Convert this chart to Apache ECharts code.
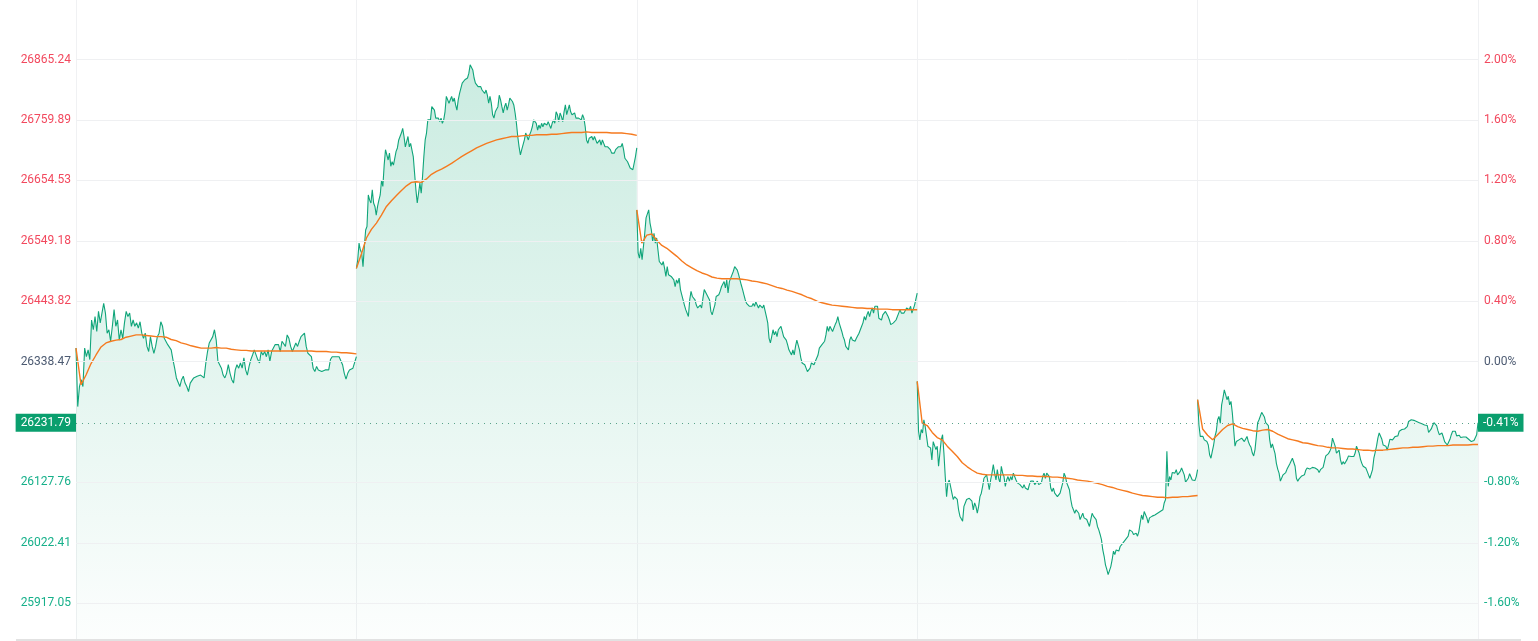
<!DOCTYPE html>
<html><head><meta charset="utf-8">
<script src="https://cdn.jsdelivr.net/npm/echarts@6/dist/echarts.min.js"></script>
<style>html,body{margin:0;padding:0;background:#fff}#c{width:1538px;height:641px}</style>
</head><body><div id="c"></div>
<script>
const prevClose = 26338.47;
const lastPrice = 26231.79;
const axisMin = 25853;
const axisMax = 26969;
const priceTicks = [25917.05, 26022.41, 26127.76, 26338.47, 26443.82, 26549.18, 26654.53, 26759.89, 26865.24];

const day1Price = [26362,26260,26295,26307,26295,26362,26347,26359,26342,26411,26394,26417,26391,26426,26406,26423,26440,26423,26388,26394,26374,26400,26429,26400,26411,26376,26394,26379,26406,26426,26417,26423,26400,26411,26400,26406,26397,26408,26388,26379,26388,26365,26356,26382,26365,26353,26365,26382,26388,26408,26400,26379,26376,26368,26371,26359,26342,26327,26310,26307,26295,26307,26313,26301,26295,26286,26301,26304,26310,26307,26313,26310,26315,26313,26310,26336,26356,26371,26374,26382,26394,26376,26339,26336,26327,26315,26310,26318,26333,26318,26307,26301,26324,26333,26327,26336,26327,26345,26324,26315,26330,26342,26350,26359,26359,26342,26336,26356,26350,26356,26347,26359,26339,26356,26359,26368,26365,26368,26356,26374,26371,26365,26385,26379,26365,26356,26359,26371,26365,26374,26382,26382,26388,26365,26353,26350,26347,26327,26321,26330,26324,26327,26321,26324,26324,26327,26324,26342,26347,26345,26347,26345,26347,26345,26333,26318,26308,26318,26324,26321,26327,26330,26347];
const day2Price = [26501,26516,26545,26533,26528,26504,26539,26568,26574,26629,26620,26615,26638,26615,26609,26594,26609,26620,26629,26655,26644,26681,26708,26711,26690,26702,26679,26687,26681,26693,26705,26711,26725,26731,26737,26745,26731,26713,26722,26731,26713,26719,26716,26696,26667,26638,26615,26632,26650,26632,26661,26696,26725,26737,26760,26763,26760,26783,26780,26777,26763,26760,26763,26757,26763,26754,26760,26774,26801,26803,26789,26795,26801,26792,26798,26786,26777,26795,26806,26803,26824,26827,26830,26833,26833,26841,26856,26859,26847,26833,26824,26821,26818,26815,26818,26812,26815,26806,26812,26803,26789,26801,26789,26769,26763,26774,26772,26783,26803,26795,26783,26772,26783,26789,26777,26786,26798,26801,26792,26786,26772,26754,26731,26713,26699,26708,26711,26725,26737,26731,26725,26734,26740,26748,26760,26763,26754,26742,26751,26745,26754,26748,26754,26757,26751,26757,26760,26745,26754,26760,26754,26774,26769,26757,26772,26766,26757,26774,26786,26769,26766,26786,26774,26769,26766,26772,26763,26760,26763,26766,26760,26769,26763,26748,26725,26719,26728,26725,26731,26725,26731,26725,26719,26722,26725,26716,26725,26719,26713,26716,26713,26711,26708,26702,26705,26702,26708,26705,26713,26716,26713,26719,26708,26693,26690,26687,26687,26676,26679,26673,26676,26696,26711];
const day3Price = [26603,26528,26519,26536,26516,26539,26562,26589,26586,26603,26580,26568,26548,26562,26545,26554,26533,26513,26516,26507,26513,26501,26487,26504,26490,26493,26487,26490,26481,26469,26481,26475,26484,26464,26455,26446,26437,26429,26432,26417,26446,26461,26452,26449,26446,26437,26432,26429,26437,26432,26449,26464,26467,26455,26458,26446,26426,26420,26429,26437,26452,26455,26455,26461,26469,26472,26478,26467,26481,26458,26478,26484,26487,26496,26504,26507,26498,26490,26481,26472,26464,26455,26446,26440,26443,26435,26432,26435,26440,26435,26443,26437,26432,26437,26440,26432,26437,26440,26417,26406,26379,26371,26382,26394,26385,26391,26382,26394,26397,26400,26391,26382,26385,26376,26368,26359,26356,26350,26359,26350,26365,26376,26379,26359,26345,26336,26339,26333,26327,26321,26318,26327,26336,26336,26333,26339,26339,26350,26362,26365,26368,26371,26374,26385,26400,26391,26400,26397,26391,26397,26403,26408,26417,26406,26408,26391,26382,26376,26365,26362,26359,26376,26382,26376,26376,26374,26379,26382,26388,26391,26400,26406,26417,26411,26420,26426,26417,26426,26432,26423,26435,26432,26435,26414,26417,26411,26420,26423,26426,26429,26417,26411,26403,26400,26406,26403,26411,26414,26423,26429,26423,26426,26423,26426,26432,26435,26429,26435,26423,26420,26437,26440,26458];
const day4Price = [26304,26217,26202,26220,26214,26237,26225,26208,26191,26191,26188,26167,26199,26202,26185,26191,26156,26179,26202,26211,26179,26138,26103,26127,26132,26132,26109,26098,26103,26100,26098,26080,26069,26066,26060,26086,26092,26098,26098,26100,26103,26095,26080,26092,26086,26074,26086,26103,26109,26121,26135,26132,26141,26138,26115,26132,26144,26159,26144,26132,26150,26135,26127,26156,26144,26138,26121,26132,26138,26130,26138,26132,26144,26147,26132,26127,26130,26124,26121,26118,26124,26118,26121,26115,26124,26130,26127,26130,26124,26127,26130,26124,26127,26127,26138,26144,26135,26144,26147,26138,26118,26112,26118,26109,26109,26103,26100,26109,26112,26127,26144,26138,26127,26121,26115,26098,26086,26080,26074,26080,26077,26074,26063,26066,26074,26066,26069,26063,26057,26051,26063,26074,26069,26071,26063,26051,26045,26037,26028,26010,25999,25984,25976,25967,25970,25981,25993,26008,26002,26010,26013,26008,26016,26019,26022,26022,26028,26031,26034,26045,26048,26042,26037,26039,26039,26034,26042,26057,26071,26063,26077,26074,26066,26057,26066,26063,26069,26066,26071,26069,26074,26071,26077,26074,26080,26092,26098,26182,26121,26138,26132,26145,26143,26144,26150,26141,26138,26147,26153,26151,26141,26128,26128,26135,26143,26141,26132,26131,26131,26138,26150];
const day5Price = [26272,26228,26208,26205,26208,26202,26199,26199,26193,26176,26170,26182,26193,26208,26217,26237,26243,26231,26263,26275,26289,26281,26272,26278,26263,26269,26249,26220,26191,26199,26202,26202,26202,26205,26202,26199,26202,26208,26199,26193,26189,26179,26174,26185,26208,26232,26237,26240,26250,26252,26242,26232,26231,26227,26202,26188,26195,26192,26178,26161,26151,26144,26130,26128,26141,26143,26145,26151,26154,26160,26163,26170,26172,26156,26135,26130,26134,26137,26139,26138,26141,26149,26153,26154,26151,26153,26154,26151,26153,26156,26150,26145,26150,26151,26154,26164,26174,26174,26178,26182,26188,26205,26205,26191,26179,26182,26184,26167,26159,26164,26160,26157,26168,26174,26176,26173,26172,26173,26179,26191,26189,26179,26168,26161,26156,26154,26153,26147,26141,26135,26134,26150,26170,26180,26191,26205,26214,26214,26203,26193,26195,26191,26184,26193,26203,26202,26202,26203,26208,26211,26209,26217,26220,26220,26218,26221,26224,26225,26234,26236,26237,26238,26236,26236,26234,26232,26232,26232,26230,26230,26228,26228,26227,26215,26213,26221,26227,26232,26234,26227,26218,26211,26213,26214,26207,26199,26197,26193,26193,26203,26211,26217,26220,26217,26209,26207,26210,26206,26205,26207,26208,26207,26205,26203,26201,26199,26198,26201,26203,26211,26231.79];

const day1Avg = [26362,26298,26315,26335,26350,26364,26371,26374,26376,26377,26381,26383,26385,26385,26384,26383,26382,26382,26381,26377,26375,26371,26369,26366,26364,26362,26362,26362,26363,26362,26362,26360,26359,26358,26358,26357,26357,26357,26357,26357,26357,26357,26357,26357,26357,26357,26357,26357,26356,26356,26356,26355,26355,26354,26354,26353,26352];
const day2Avg = [26501,26526,26554,26569,26580,26594,26609,26619,26628,26637,26645,26651,26652,26651,26657,26665,26670,26674,26679,26684,26690,26696,26701,26706,26711,26715,26719,26722,26725,26727,26729,26731,26731,26732,26733,26733,26734,26734,26734,26735,26735,26736,26737,26738,26738,26738,26739,26738,26738,26738,26738,26737,26737,26737,26736,26735,26733];
const day3Avg = [26603,26545,26559,26561,26550,26541,26536,26529,26522,26514,26507,26502,26497,26493,26490,26486,26484,26483,26483,26483,26483,26482,26481,26479,26478,26476,26474,26471,26468,26466,26463,26461,26458,26455,26451,26448,26444,26441,26439,26437,26436,26435,26434,26433,26432,26432,26431,26431,26430,26430,26430,26429,26429,26429,26429,26429,26429];
const day4Avg = [26304,26231,26227,26215,26206,26202,26191,26182,26173,26162,26155,26149,26144,26142,26141,26141,26141,26141,26141,26141,26140,26140,26139,26139,26138,26138,26138,26137,26137,26136,26135,26134,26132,26131,26130,26128,26126,26124,26121,26119,26116,26114,26112,26109,26107,26105,26104,26103,26102,26102,26101,26102,26102,26103,26103,26104,26105];
const day5Avg = [26272,26221,26210,26202,26211,26220,26227,26230,26225,26222,26220,26218,26217,26219,26220,26217,26212,26208,26204,26202,26200,26197,26196,26194,26192,26191,26189,26188,26188,26187,26186,26186,26185,26184,26184,26183,26184,26184,26185,26186,26187,26188,26188,26189,26189,26190,26191,26191,26192,26192,26192,26193,26193,26193,26193,26194,26194];

const GREEN = '#10a57a';
const ORANGE = '#f57a1f';
const UP = '#f2495e';
const DOWN = '#17b08a';
const FLAT = '#4d5b72';
const TAG = '#0a9f6e';
const FONT = 'Roboto, Arial, sans-serif';

function pct(v) { return ((v / prevClose - 1) * 100).toFixed(2) + '%'; }
function tone(v) { return v > prevClose + 0.001 ? UP : (v < prevClose - 0.001 ? DOWN : FLAT); }

const fill = {
  type: 'linear', x: 0, y: 0, x2: 0, y2: 640, global: true,
  colorStops: [
    { offset: 0, color: 'rgba(16,168,118,0.24)' },
    { offset: 0.55, color: 'rgba(16,168,118,0.12)' },
    { offset: 1, color: 'rgba(16,168,118,0.01)' }
  ]
};

const days = [[day1Price, day1Avg], [day2Price, day2Avg], [day3Price, day3Avg], [day4Price, day4Avg], [day5Price, day5Avg]];
const series = [];
days.forEach(function (pair, d) {
  const p = pair[0], a = pair[1];
  const s = {
    type: 'line', symbol: 'none', silent: true,
    data: p.map(function (v, i) { return [d + i / (p.length - 1), v]; }),
    lineStyle: { color: GREEN, width: 1.1 },
    areaStyle: { color: fill, origin: 'start', opacity: 1 },
    z: 2
  };
  if (d === 0) {
    s.markLine = {
      silent: true, symbol: ['none', 'none'], animation: false,
      label: { show: false },
      lineStyle: { color: '#eff0f2', type: 'solid', width: 1 },
      data: priceTicks.map(function (v) { return { yAxis: v }; })
    };
  }
  if (d === 4) {
    s.markLine = {
      silent: true, symbol: ['none', 'none'], animation: false,
      lineStyle: { color: '#5aa38a', type: [1, 5], width: 1 },
      label: { show: true, color: '#fff', backgroundColor: TAG, padding: [3, 5, 3, 5], fontSize: 12, fontFamily: FONT, distance: 0 },
      data: [
        { yAxis: lastPrice, label: { position: 'start', formatter: lastPrice.toFixed(2) } },
        { yAxis: lastPrice, label: { position: 'end', formatter: pct(lastPrice) } }
      ]
    };
  }
  series.push(s);
  series.push({
    type: 'line', symbol: 'none', silent: true,
    data: a.map(function (v, i) { return [d + i / (a.length - 1), v]; }),
    lineStyle: { color: ORANGE, width: 1.4 },
    z: 3
  });
});

const chart = echarts.init(document.getElementById('c'), null, { renderer: 'canvas' });
chart.setOption({
  animation: false,
  backgroundColor: '#fff',
  grid: { left: 76, right: 60, top: 0, bottom: 1 },
  xAxis: {
    type: 'value', min: 0, max: 5, interval: 1,
    axisLine: { show: false }, axisTick: { show: false }, axisLabel: { show: false },
    splitLine: { show: true, lineStyle: { color: '#f0f1f3', width: 1 } }
  },
  yAxis: [
    {
      type: 'value', min: axisMin, max: axisMax, position: 'left',
      axisLine: { show: false }, axisTick: { show: false }, splitLine: { show: false },
      axisLabel: {
        customValues: priceTicks, margin: 5, fontSize: 12, fontFamily: FONT,
        formatter: function (v) { return Number(v).toFixed(2); },
        color: function (v) { return tone(Number(v)); }
      }
    },
    {
      type: 'value', min: axisMin, max: axisMax, position: 'right',
      axisLine: { show: false }, axisTick: { show: false }, splitLine: { show: false },
      axisLabel: {
        customValues: priceTicks, margin: 6, fontSize: 12, fontFamily: FONT,
        formatter: function (v) { return pct(Number(v)); },
        color: function (v) { return tone(Number(v)); }
      }
    }
  ],
  graphic: [{
    type: 'line', silent: true, z: 10,
    shape: { x1: 16, y1: 640, x2: 1521, y2: 640 },
    style: { stroke: '#e2e2e2', lineWidth: 2 }
  }],
  series: series
});
</script>
</body></html>
